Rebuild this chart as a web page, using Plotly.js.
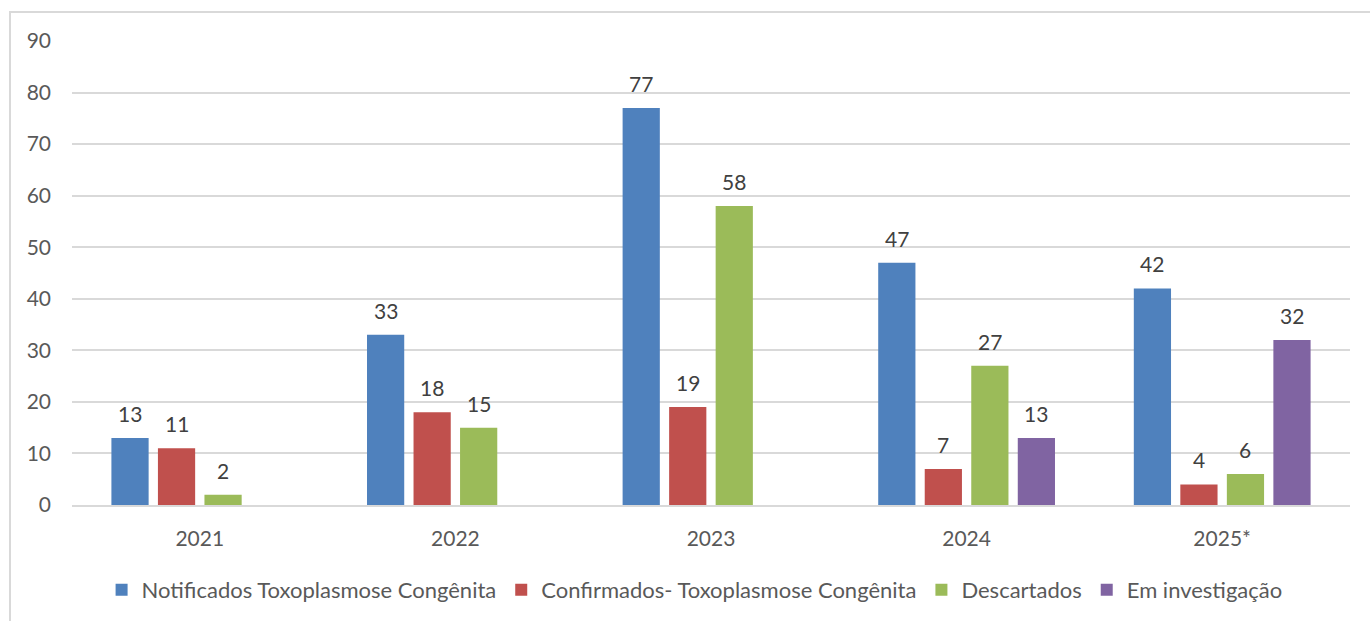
<!DOCTYPE html>
<html>
<head>
<meta charset="utf-8">
<script src="https://cdn.plot.ly/plotly-3.0.1.min.js"></script>
<style>
  html, body { margin: 0; padding: 0; background: #ffffff; overflow: hidden; }
  #frame { position: absolute; left: 9px; top: 11px; width: 1400px; height: 700px; border: 2px solid #d9d9d9; box-sizing: border-box; pointer-events: none; }
  #chart { position: absolute; left: 0; top: 0; width: 1370px; height: 621px; }
</style>
</head>
<body>
<div id="chart"></div>
<div id="frame"></div>
<script>
const categories = ["2021", "2022", "2023", "2024", "2025*"];
const seriesNames = [
  "Notificados Toxoplasmose Congênita",
  "Confirmados- Toxoplasmose Congênita",
  "Descartados",
  "Em investigação"
];
const notificados = [13, 33, 77, 47, 42];
const confirmados = [11, 18, 19, 7, 4];
const descartados = [2, 15, 58, 27, 6];
const emInvestigacao = [null, null, null, 13, 32];
const yTicks = [0, 10, 20, 30, 40, 50, 60, 70, 80, 90];

const colors = ["#4f81bd", "#c0504d", "#9bbb59", "#8064a2"];
const allSeries = [notificados, confirmados, descartados, emInvestigacao];

const W = 1370, H = 621;
const margin = {l: 72, r: 20, t: 41, b: 116};
const bargap = 0.272;
const plotW = W - margin.l - margin.r;
const slot = plotW / categories.length * (1 - bargap) / allSeries.length;

const FONT = "Lato, 'Liberation Sans', sans-serif";

const traces = allSeries.map((vals, i) => ({
  type: "bar",
  name: seriesNames[i],
  x: categories,
  y: vals,
  marker: {color: colors[i], line: {width: 0}},
  hoverinfo: "x+y+name"
}));

const annotations = [];
allSeries.forEach((vals, i) => {
  vals.forEach((v, j) => {
    if (v === null) return;
    annotations.push({
      x: j, y: v, xref: "x", yref: "y",
      text: String(v), showarrow: false,
      xanchor: "center", yanchor: "bottom",
      xshift: (i - (allSeries.length - 1) / 2) * slot,
      yshift: 10,
      font: {family: FONT, size: 21, color: "#404040"}
    });
  });
});

const layout = {
  width: W, height: H,
  margin: margin,
  paper_bgcolor: "rgba(0,0,0,0)",
  plot_bgcolor: "#ffffff",
  barmode: "group",
  bargap: bargap,
  bargroupgap: 0.2,
  showlegend: true,
  legend: {
    orientation: "h",
    xref: "container", yref: "container",
    x: 0.507, xanchor: "center",
    y: 0.05, yanchor: "middle",
    font: {family: FONT, size: 22, color: "#595959"},
    itemwidth: 30,
    traceorder: "normal"
  },
  xaxis: {
    type: "category",
    categoryorder: "array",
    categoryarray: categories,
    range: [-0.5, categories.length - 0.5],
    showgrid: false,
    showline: true, linecolor: "#d9d9d9", linewidth: 2,
    ticks: "",
    ticklabelstandoff: 14,
    tickfont: {family: FONT, size: 21, color: "#595959"},
    fixedrange: true
  },
  yaxis: {
    range: [0, 90],
    tickvals: yTicks,
    showgrid: true, gridcolor: "#d9d9d9", gridwidth: 2,
    zeroline: false,
    showline: false,
    ticks: "",
    ticklabelstandoff: 20,
    tickfont: {family: FONT, size: 21, color: "#595959"},
    fixedrange: true
  },
  annotations: annotations
};

Plotly.newPlot("chart", traces, layout, {displayModeBar: false, staticPlot: true});
</script>
</body>
</html>
